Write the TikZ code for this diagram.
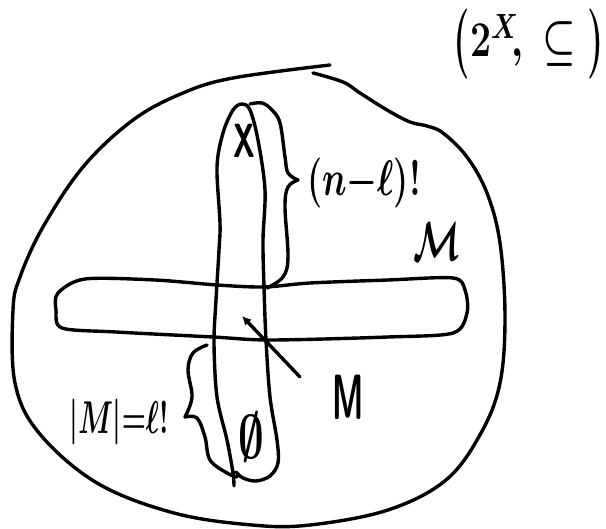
\RequirePackage{fix-cm}
\documentclass[tikz,border=0pt]{standalone}
\usepackage{amsmath,amssymb}
\usetikzlibrary{arrows.meta}
\newcommand{\hwtext}[3]{\scalebox{#1}[1]{\fontsize{#2}{#2}\selectfont\boldmath\bfseries #3}}
\newcommand{\tallparen}[1]{\vcenter{\hbox{\scalebox{1}[1.4]{$#1$}}}}
\begin{document}
\begin{tikzpicture}[x=1pt,y=-1pt,
  pen/.style={line width=3.4pt,line cap=round,line join=round,black},
  lab/.style={inner sep=0pt,anchor=center}]
\useasboundingbox (0,0) rectangle (606,529);
% big open circle
\draw[pen] plot[smooth,tension=0.6] coordinates{(313,73) (343,82) (360,93) (387,110) (410,122) (427,126) (443,133) (467,157) (487,193) (500,243) (505,317) (500,383) (481,433) (446,480) (388,510) (310,525) (252,525) (174,513) (97,483) (39,433) (15,383) (13,310) (20,277) (43,227) (83,167) (133,120) (183,93) (233,78) (330,65)};
% horizontal bar
\draw[pen] plot[smooth cycle,tension=0.5] coordinates{(85,279) (155,280) (217,285) (264,287) (310,283) (388,280) (453,278) (465,290) (467,313) (453,333) (388,337) (271,340) (213,337) (116,332) (62,328) (56,310) (58,293)};
% vertical loop
\draw[pen] plot[smooth,tension=0.55] coordinates{(234,486) (233,473) (227,440) (217,397) (214,343) (216,300) (219,250) (220,223) (217,167) (223,133) (233,110) (242,104) (250,110) (258,140) (265,190) (263,240) (264,287) (266,340) (270,397) (277,440) (278,463) (270,476) (256,481) (243,478) (236,472)};
% upper brace
\draw[pen] plot[smooth,tension=0.6] coordinates{(250,104) (262,103) (272,110) (280,123) (285,157) (288,173) (298,180)};
\draw[pen] plot[smooth,tension=0.6] coordinates{(298,180) (288,187) (285,207) (288,257) (283,277) (267,288)};
% lower brace
\draw[pen] plot[smooth,tension=0.6] coordinates{(207,345) (193,353) (188,370) (192,397) (185,417)};
\draw[pen] plot[smooth,tension=0.6] coordinates{(185,417) (197,418) (205,437) (210,460) (227,473) (237,477)};
% labels
\node[lab] (X) at (244,141) {\hwtext{0.62}{48pt}{\textsf{X}}};
\node[lab] (nl) at (364,183) {\hwtext{0.69}{50pt}{$(n{-}\ell)!$}};
\node[lab] (calM) at (437,242) {\hwtext{0.62}{55pt}{$\mathcal{M}$}};
\node[lab] (Mlab) at (348,397) {\hwtext{0.5}{64pt}{\textsf{M}}};
\node[lab] (card) at (119,422) {\hwtext{0.6}{46pt}{$|M|{=}\ell!$}};
\node[lab] (empty) at (251,437) {\hwtext{0.72}{62pt}{$\emptyset$}};
\node[lab] (pair) at (529,44) {\hwtext{0.75}{50pt}{$\tallparen{(}2^{X}\!,\;\subseteq\tallparen{)}$}};
% pointer to M
\coordinate (tip) at (242,316);
\coordinate (tail) at (300,377);
\draw[pen,{Latex[length=9pt,width=9pt]}-] (tip) -- (tail);
\end{tikzpicture}
\end{document}
